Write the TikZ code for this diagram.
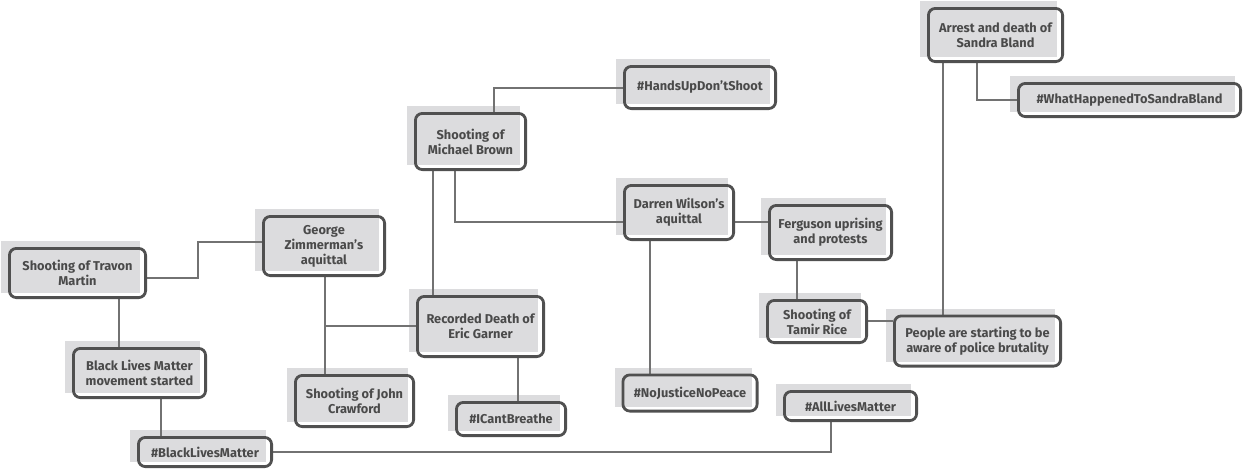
\documentclass[tikz,border=0pt]{standalone}
\usepackage{fontspec}
\setmainfont{Fira Sans}
\usetikzlibrary{backgrounds}
\definecolor{boxc}{HTML}{505050}
\definecolor{shadowc}{HTML}{DCDCDE}
\definecolor{textc}{HTML}{4A4A4A}
\definecolor{linec}{HTML}{727272}
\tikzset{
  tbox/.style={draw=boxc, line width=2.8pt, rounded corners=7pt, inner sep=0pt,
    align=center, text=textc, font=\fontsize{12.8}{15}\selectfont\bfseries},
  conn/.style={draw=linec, line width=1.3pt},
}
\newcommand{\tb}[7]{% name, cx, cy, w, h, text
  \node[tbox, minimum width=#4pt-2.8pt, minimum height=#5pt-2.8pt] (#1) at (#2,#3) {#6};
  \begin{scope}[on background layer]
    \fill[shadowc] ([shift={(-7pt,6pt)}]#1.south west) rectangle ([shift={(-7pt,6pt)}]#1.north east);
  \end{scope}#7}
\begin{document}
\begin{tikzpicture}[x=1pt,y=-1pt]
\useasboundingbox (0,0) rectangle (1252,471);
\tb{travon}{77.5}{273}{139}{52}{Shooting of Travon\\Martin}{}
\tb{george}{324}{246}{124}{62}{George\\Zimmerman's\\aquittal}{}
\tb{blm}{139.5}{373}{135}{52}{Black Lives Matter\\movement started}{}
\tb{hashblm}{205}{452}{136}{32}{\#BlackLivesMatter}{}
\tb{crawford}{354.5}{401}{121}{54}{Shooting of John\\Crawford}{}
\tb{garner}{480.5}{326.5}{129}{63}{Recorded Death of\\Eric Garner}{}
\tb{icant}{511}{419}{112}{36}{\#ICantBreathe}{}
\tb{brown}{470.5}{141.5}{113}{59}{Shooting of\\Michael Brown}{}
\tb{handsup}{700}{87.5}{154}{45}{\#HandsUpDon'tShoot}{}
\tb{darren}{679}{212.5}{112}{57}{Darren Wilson's\\aquittal}{}
\tb{nojustice}{690}{393}{137}{39}{\#NoJusticeNoPeace}{}
\tb{ferguson}{830.5}{232.5}{125}{57}{Ferguson uprising\\and protests}{}
\tb{tamir}{817}{321.5}{102}{45}{Shooting of\\Tamir Rice}{}
\tb{people}{977.5}{341}{169}{53}{People are starting to be\\aware of police brutality}{}
\tb{sandra}{995.5}{35}{137}{56}{Arrest and death of\\Sandra Bland}{}
\tb{whathappened}{1129.5}{100}{225}{36}{\#WhatHappenedToSandraBland}{}
\tb{alllives}{850.5}{406}{135}{32}{\#AllLivesMatter}{}
\begin{scope}[on background layer]
\draw[conn] (travon.east|-0,278) -- (198,278) |- (george.west|-0,242);
\draw[conn] (travon.south-|119,0) -- (blm.north-|119,0);
\draw[conn] (blm.south-|161,0) -- (hashblm.north-|161,0);
\draw[conn] (hashblm.east|-0,452) -| (alllives.south-|831,0);
\draw[conn] (george.south-|325,0) -- (crawford.north-|325,0);
\draw[conn] (325,326) -- (garner.west|-0,326);
\draw[conn] (garner.north-|433,0) -- (brown.south-|433,0);
\draw[conn] (garner.south-|518,0) -- (icant.north-|518,0);
\draw[conn] (brown.north-|494,0) |- (handsup.west|-0,88);
\draw[conn] (brown.south-|455,0) |- (darren.west|-0,222);
\draw[conn] (darren.east|-0,222) -- (ferguson.west|-0,222);
\draw[conn] (darren.south-|650,0) -- (nojustice.north-|650,0);
\draw[conn] (ferguson.south-|797,0) -- (tamir.north-|797,0);
\draw[conn] (tamir.east|-0,321) -- (people.west|-0,321);
\draw[conn] (sandra.south-|943,0) -- (people.north-|943,0);
\draw[conn] (sandra.south-|977,0) |- (whathappened.west|-0,100);
\end{scope}
\end{tikzpicture}
\end{document}
